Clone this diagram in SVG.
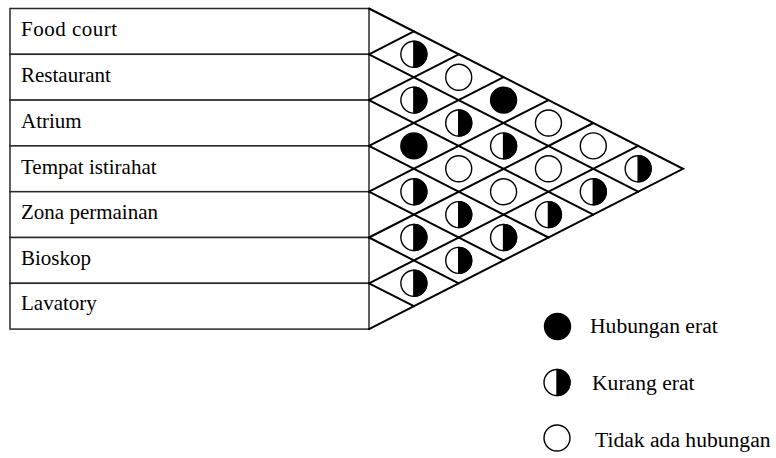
<svg xmlns="http://www.w3.org/2000/svg" xmlns:xlink="http://www.w3.org/1999/xlink" width="776" height="458" viewBox="0 0 776 458">
<style>
.lbl{font-family:"Liberation Serif","Times New Roman",serif;font-size:21px;fill:#000}
.leg{font-size:21.6px}
.cell{fill:#fff;stroke:#2a2a2a;stroke-width:1.5}
.grid{stroke:#000;stroke-width:2;fill:none;stroke-linecap:round}
.c{stroke:#000;stroke-width:1.4}
</style>
<defs>
<g id="full"><circle r="13" class="c" fill="#000"/></g>
<g id="half"><circle r="13" class="c" fill="#fff"/><path d="M0,-13 A13,13 0 0 1 0,13 Z" fill="#000" stroke="#000" stroke-width="1.4"/></g>
<g id="none"><circle r="13" class="c" fill="#fff"/></g>
</defs>
<rect width="776" height="458" fill="#fff"/>
<g id="row-food-court"><rect class="cell" x="10" y="8.5" width="359" height="45.8"/><text class="lbl" x="21" y="36" textLength="96">Food court</text></g>
<g id="row-restaurant"><rect class="cell" x="10" y="54.3" width="359" height="45.8"/><text class="lbl" x="21" y="82">Restaurant</text></g>
<g id="row-atrium"><rect class="cell" x="10" y="100.1" width="359" height="45.8"/><text class="lbl" x="21" y="128">Atrium</text></g>
<g id="row-tempat-istirahat"><rect class="cell" x="10" y="145.9" width="359" height="45.8"/><text class="lbl" x="21" y="173.5">Tempat istirahat</text></g>
<g id="row-zona-permainan"><rect class="cell" x="10" y="191.7" width="359" height="45.8"/><text class="lbl" x="21" y="219">Zona permainan</text></g>
<g id="row-bioskop"><rect class="cell" x="10" y="237.5" width="359" height="45.8"/><text class="lbl" x="21" y="265">Bioskop</text></g>
<g id="row-lavatory"><rect class="cell" x="10" y="283.3" width="359" height="45.8"/><text class="lbl" x="21" y="310">Lavatory</text></g>
<g id="connectors" class="grid">
<path d="M369,8.5 L683,168.8 L369,329.1"/>
<path d="M369,54.3 L638.16,191.7 M369,100.1 L593.3,214.6 M369,145.9 L548.44,237.5 M369,191.7 L503.58,260.4 M369,237.5 L458.72,283.3 M369,283.3 L413.86,306.2"/>
<path d="M369,283.3 L638.16,145.9 M369,237.5 L593.3,123 M369,191.7 L548.44,100.1 M369,145.9 L503.58,77.2 M369,100.1 L458.72,54.3 M369,54.3 L413.86,31.4"/>
</g>
<g id="marks">
<use xlink:href="#half" x="413.86" y="54.3"/>
<use xlink:href="#half" x="413.86" y="100.1"/>
<use xlink:href="#full" x="413.86" y="145.9"/>
<use xlink:href="#half" x="413.86" y="191.7"/>
<use xlink:href="#half" x="413.86" y="237.5"/>
<use xlink:href="#half" x="413.86" y="283.3"/>
<use xlink:href="#none" x="458.72" y="77.2"/>
<use xlink:href="#half" x="458.72" y="123"/>
<use xlink:href="#none" x="458.72" y="168.8"/>
<use xlink:href="#half" x="458.72" y="214.6"/>
<use xlink:href="#half" x="458.72" y="260.4"/>
<use xlink:href="#full" x="503.58" y="100.1"/>
<use xlink:href="#half" x="503.58" y="145.9"/>
<use xlink:href="#none" x="503.58" y="191.7"/>
<use xlink:href="#half" x="503.58" y="237.5"/>
<use xlink:href="#none" x="548.44" y="123"/>
<use xlink:href="#none" x="548.44" y="168.8"/>
<use xlink:href="#half" x="548.44" y="214.6"/>
<use xlink:href="#none" x="593.3" y="145.9"/>
<use xlink:href="#half" x="593.3" y="191.7"/>
<use xlink:href="#half" x="638.16" y="168.8"/>
</g>
<g id="legend">
<use xlink:href="#full" x="557.5" y="326.5"/>
<text class="lbl leg" x="590" y="333">Hubungan erat</text>
<use xlink:href="#half" x="557" y="382.5"/>
<text class="lbl leg" x="592" y="390">Kurang erat</text>
<use xlink:href="#none" x="557" y="438"/>
<text class="lbl leg" x="595" y="447">Tidak ada hubungan</text>
</g>
</svg>
